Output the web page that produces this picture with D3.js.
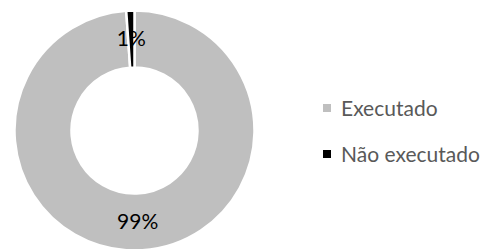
<!DOCTYPE html>
<html>
<head>
<meta charset="utf-8">
<script src="https://cdn.jsdelivr.net/npm/d3@7"></script>
<style>
  html, body { margin: 0; padding: 0; background: #fff; }
  svg { display: block; }
</style>
</head>
<body>
<div id="chart"></div>
<script>
const categories = ["Executado", "Não executado"];
const values = [98.9, 1.1];
const colors = ["#BFBFBF", "#000000"];

const width = 490;
const height = 249;
const cx = 134.5, cy = 130.5;
const outerR = 120, innerR = 63;

const svg = d3.select("#chart").append("svg")
  .attr("width", width)
  .attr("height", height);

const pie = d3.pie().sort(null).value(d => d.value);
const arcs = pie(categories.map((c, i) => ({ name: c, value: values[i], color: colors[i] })));

const arc = d3.arc().innerRadius(innerR).outerRadius(outerR);

const g = svg.append("g")
  .attr("transform", `translate(${cx},${cy})`);

g.selectAll("path.slice")
  .data(arcs)
  .enter().append("path")
  .attr("class", "slice")
  .attr("d", arc)
  .attr("fill", d => d.data.color)
  .attr("stroke", "#fff")
  .attr("stroke-width", 2.5);

const total = d3.sum(values);
g.selectAll("text.label")
  .data(arcs)
  .enter().append("text")
  .attr("class", "label")
  .attr("transform", d => `translate(${arc.centroid(d)})`)
  .attr("dy", "0.35em")
  .attr("text-anchor", "middle")
  .attr("font-family", "Lato, sans-serif")
  .attr("font-size", "21px")
  .attr("fill", "#000")
  .text(d => Math.round(d.data.value / total * 100) + "%");

// legend
const legend = svg.append("g")
  .attr("transform", "translate(323,104)");

const item = legend.selectAll("g.item")
  .data(categories)
  .enter().append("g")
  .attr("class", "item")
  .attr("transform", (d, i) => `translate(0,${i * 46})`);

item.append("rect")
  .attr("width", 8)
  .attr("height", 8)
  .attr("fill", (d, i) => colors[i]);

item.append("text")
  .attr("x", 18)
  .attr("y", 12)
  .attr("font-family", "Lato, sans-serif")
  .attr("font-size", "21px")
  .attr("fill", "#595959")
  .text(d => d);
</script>
</body>
</html>
